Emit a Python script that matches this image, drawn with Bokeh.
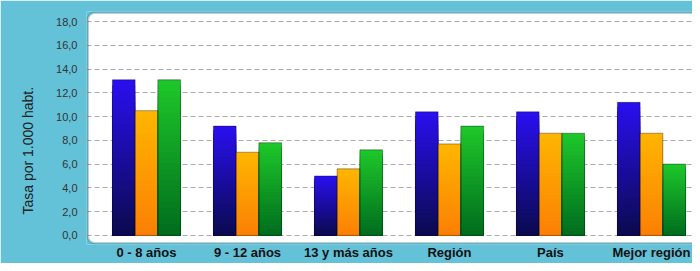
from bokeh.plotting import figure
from bokeh.models import Range1d, FixedTicker, BoxAnnotation, ColumnDataSource, Title
from bokeh.embed import file_html
from bokeh.resources import INLINE

# ---- data ----
categories = ["0 - 8 años", "9 - 12 años", "13 y más años", "Región", "País", "Mejor región"]
serie_azul = [13.1, 9.2, 5.0, 10.4, 10.4, 11.2]
serie_naranja = [10.5, 7.0, 5.6, 7.7, 8.6, 8.6]
serie_verde = [13.1, 7.8, 7.2, 9.2, 8.6, 6.0]
y_ticks = [0, 2, 4, 6, 8, 10, 12, 14, 16, 18]
y_tick_labels = ["0,0", "2,0", "4,0", "6,0", "8,0", "10,0", "12,0", "14,0", "16,0", "18,0"]
y_axis_title = "Tasa por 1.000 habt."

# ---- style ----
BG = "#63c1d8"
BORDER = "#166479"
GRID = "#a9a9a9"
series = [
    (serie_azul, -0.225, "#0a0a4e", "#2a0ff0"),
    (serie_naranja, 0.0, "#fb7f05", "#ffb600"),
    (serie_verde, 0.225, "#006c1e", "#1ec82a"),
]
BAR_W = 0.225
N = 28

X0, X1 = -0.594, 5.406
Y0, Y1 = -0.77, 18.85


def hex_to_rgb(h):
    h = h.lstrip("#")
    return tuple(int(h[i:i + 2], 16) for i in (0, 2, 4))


def mix(c0, c1, t):
    a, b = hex_to_rgb(c0), hex_to_rgb(c1)
    return "#%02x%02x%02x" % tuple(int(round(a[i] + (b[i] - a[i]) * t)) for i in range(3))


p = figure(
    width=692, height=263,
    x_range=Range1d(X0, X1), y_range=Range1d(Y0, Y1),
    output_backend="svg", toolbar_location=None,
    min_border_left=86, min_border_right=0, min_border_top=11, min_border_bottom=19,
)
p.background_fill_color = BG
p.border_fill_color = BG
p.outline_line_color = None

# white rounded panel (inset slightly so its border stays inside the frame)
dx, dy = 0.013, 0.11
panel = BoxAnnotation(left=X0 + dx, right=X1 + 1, top=Y1 - dy, bottom=Y0 + dy,
                      fill_color="white", fill_alpha=1.0, line_color=None,
                      border_radius=7, level="image")
p.add_layout(panel)

# grid
p.xgrid.visible = False
p.ygrid.ticker = FixedTicker(ticks=y_ticks)
p.ygrid.grid_line_color = GRID
p.ygrid.grid_line_dash = "5 3"
p.ygrid.grid_line_width = 1.2

# frame border
frame_border = BoxAnnotation(left=X0 + dx, right=X1 + 1, top=Y1 - dy, bottom=Y0 + dy,
                             fill_alpha=0, fill_color=None, line_color=BORDER,
                             line_width=2.5, border_radius=7, level="underlay")
p.add_layout(frame_border)

# bars with vertical gradient (drawn tallest-first to avoid seams)
xs, tops, cols = [], [], []
for vals, off, c_bot, c_top in series:
    for k in range(N - 1, -1, -1):
        frac = (k + 1) / N
        col = mix(c_bot, c_top, (k + 0.5) / N)
        for i, v in enumerate(vals):
            xs.append(i + off)
            tops.append(v * frac)
            cols.append(col)
src = ColumnDataSource(dict(x=xs, top=tops, color=cols))
p.vbar(x="x", top="top", bottom=0, width=BAR_W, fill_color="color", line_color=None, source=src)

# bar outlines
ox, ot = [], []
for vals, off, c_bot, c_top in series:
    for i, v in enumerate(vals):
        ox.append(i + off)
        ot.append(v)
p.vbar(x=ox, top=ot, bottom=0, width=BAR_W, fill_color=None,
       line_color="#000000", line_alpha=0.35, line_width=1)

# y axis
ya = p.yaxis[0]
ya.ticker = FixedTicker(ticks=y_ticks)
ya.major_label_overrides = {t: l for t, l in zip(y_ticks, y_tick_labels)}
ya.axis_line_color = None
ya.major_tick_out = 4
ya.major_tick_in = 0
ya.major_tick_line_color = GRID
ya.minor_tick_line_color = None
ya.major_label_standoff = 5
ya.major_label_text_font = "Liberation Sans"
ya.major_label_text_font_size = "11px"
ya.major_label_text_color = "#333333"

# x axis
xa = p.xaxis[0]
xa.ticker = FixedTicker(ticks=list(range(len(categories))))
xa.major_label_overrides = {i: c for i, c in enumerate(categories)}
xa.axis_line_color = None
xa.major_tick_line_color = None
xa.minor_tick_line_color = None
xa.major_tick_out = 0
xa.major_tick_in = 0
xa.major_label_standoff = 0
xa.major_label_text_font = "Liberation Sans"
xa.major_label_text_font_style = "bold"
xa.major_label_text_font_size = "13px"
xa.major_label_text_color = "#111111"

# y axis title
p.add_layout(Title(text=y_axis_title, align="left", offset=30, standoff=35,
                   text_font="Liberation Sans", text_font_size="14px",
                   text_font_style="normal", text_color="#222222"), "left")

open("out.html", "w").write(file_html(p, INLINE))
